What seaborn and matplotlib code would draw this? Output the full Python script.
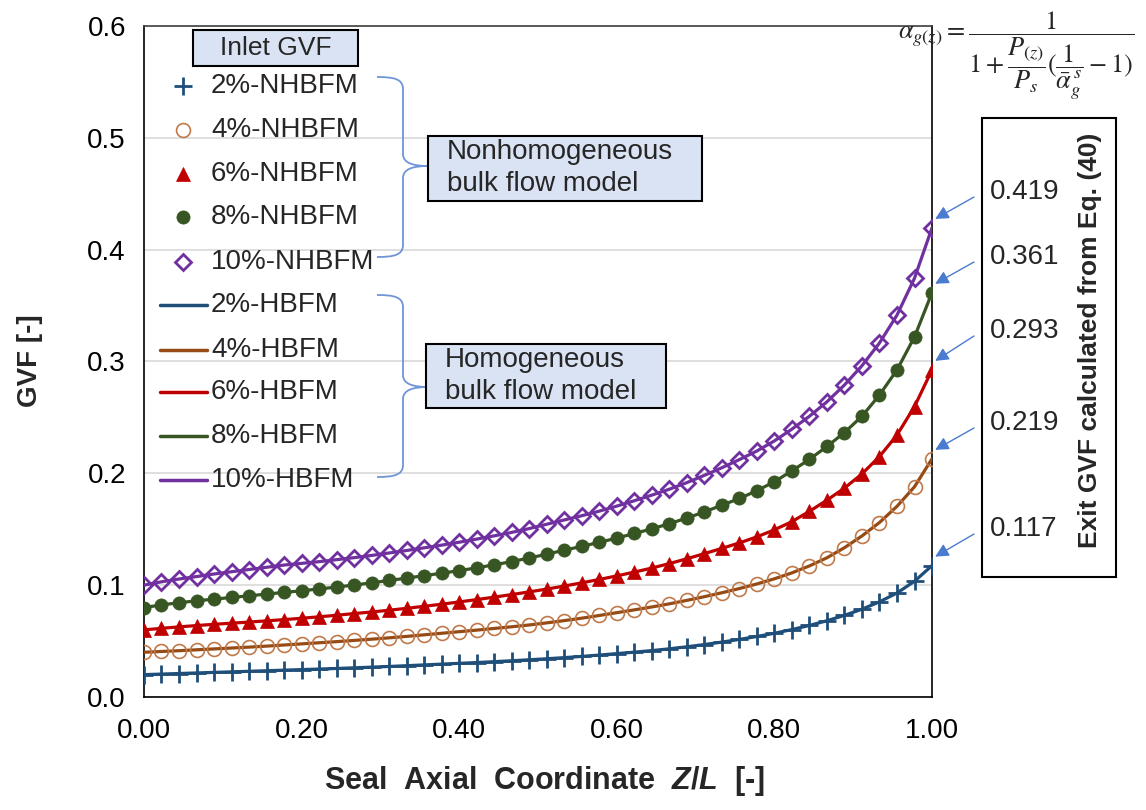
import numpy as np
import pandas as pd
import matplotlib
matplotlib.use("Agg")
import matplotlib.pyplot as plt
import matplotlib.transforms as mtransforms
from matplotlib.patches import Rectangle, PathPatch
from matplotlib.path import Path
from matplotlib.lines import Line2D
import seaborn as sns

# ---------------- data ----------------
z_over_L = [0.0000, 0.0222, 0.0444, 0.0667, 0.0889, 0.1111, 0.1333, 0.1556, 0.1778, 0.2000,
            0.2222, 0.2444, 0.2667, 0.2889, 0.3111, 0.3333, 0.3556, 0.3778, 0.4000, 0.4222,
            0.4444, 0.4667, 0.4889, 0.5111, 0.5333, 0.5556, 0.5778, 0.6000, 0.6222, 0.6444,
            0.6667, 0.6889, 0.7111, 0.7333, 0.7556, 0.7778, 0.8000, 0.8222, 0.8444, 0.8667,
            0.8889, 0.9111, 0.9333, 0.9556, 0.9778, 1.0000]

gvf_2 = [0.0200, 0.0205, 0.0210, 0.0215, 0.0220, 0.0225, 0.0230, 0.0235, 0.0240, 0.0245,
         0.0250, 0.0255, 0.0261, 0.0267, 0.0273, 0.0280, 0.0287, 0.0294, 0.0301, 0.0308,
         0.0316, 0.0324, 0.0333, 0.0342, 0.0352, 0.0363, 0.0375, 0.0388, 0.0401, 0.0415,
         0.0431, 0.0449, 0.0469, 0.0491, 0.0515, 0.0541, 0.0570, 0.0603, 0.0640, 0.0682,
         0.0730, 0.0785, 0.0851, 0.0930, 0.1035, 0.1175]
gvf_4 = [0.0400, 0.0407, 0.0414, 0.0422, 0.0430, 0.0438, 0.0446, 0.0455, 0.0465, 0.0475,
         0.0485, 0.0495, 0.0506, 0.0517, 0.0529, 0.0542, 0.0556, 0.0570, 0.0584, 0.0598,
         0.0613, 0.0628, 0.0644, 0.0663, 0.0683, 0.0705, 0.0729, 0.0754, 0.0779, 0.0805,
         0.0833, 0.0864, 0.0897, 0.0932, 0.0970, 0.1011, 0.1057, 0.1110, 0.1172, 0.1245,
         0.1335, 0.1440, 0.1560, 0.1705, 0.1880, 0.2130]
gvf_6 = [0.0600, 0.0614, 0.0627, 0.0639, 0.0650, 0.0660, 0.0670, 0.0681, 0.0692, 0.0704,
         0.0717, 0.0731, 0.0746, 0.0760, 0.0776, 0.0793, 0.0811, 0.0830, 0.0850, 0.0871,
         0.0893, 0.0916, 0.0940, 0.0965, 0.0992, 0.1021, 0.1051, 0.1083, 0.1117, 0.1153,
         0.1193, 0.1236, 0.1282, 0.1329, 0.1378, 0.1432, 0.1495, 0.1568, 0.1660, 0.1760,
         0.1868, 0.1995, 0.2150, 0.2343, 0.2597, 0.2925]
gvf_8 = [0.0800, 0.0823, 0.0843, 0.0860, 0.0875, 0.0890, 0.0905, 0.0920, 0.0935, 0.0950,
         0.0966, 0.0983, 0.1001, 0.1021, 0.1042, 0.1063, 0.1085, 0.1107, 0.1130, 0.1155,
         0.1182, 0.1211, 0.1243, 0.1277, 0.1313, 0.1347, 0.1383, 0.1421, 0.1462, 0.1503,
         0.1550, 0.1600, 0.1655, 0.1715, 0.1775, 0.1845, 0.1925, 0.2022, 0.2125, 0.2240,
         0.2365, 0.2510, 0.2700, 0.2925, 0.3220, 0.3615]
gvf_10 = [0.1000, 0.1030, 0.1055, 0.1077, 0.1100, 0.1120, 0.1140, 0.1160, 0.1180, 0.1195,
          0.1210, 0.1228, 0.1246, 0.1266, 0.1288, 0.1310, 0.1334, 0.1358, 0.1384, 0.1412,
          0.1441, 0.1472, 0.1506, 0.1545, 0.1583, 0.1621, 0.1662, 0.1707, 0.1755, 0.1805,
          0.1858, 0.1917, 0.1982, 0.2050, 0.2123, 0.2200, 0.2290, 0.2395, 0.2510, 0.2640,
          0.2790, 0.2962, 0.3165, 0.3415, 0.3745, 0.4195]

inlet_labels = ["2%", "4%", "6%", "8%", "10%"]
exit_gvf_eq40 = ["0.419", "0.361", "0.293", "0.219", "0.117"]
x_ticks = [0.0, 0.2, 0.4, 0.6, 0.8, 1.0]
x_tick_labels = ["0.00", "0.20", "0.40", "0.60", "0.80", "1.00"]
y_ticks = [0.0, 0.1, 0.2, 0.3, 0.4, 0.5, 0.6]
y_tick_labels = ["0.0", "0.1", "0.2", "0.3", "0.4", "0.5", "0.6"]

# ---------------- style ----------------
sns.set_style("white")
plt.rcParams['font.family'] = ['Liberation Sans', 'DejaVu Sans']
plt.rcParams['mathtext.fontset'] = 'custom'
plt.rcParams['mathtext.it'] = 'Liberation Sans:italic:bold'
plt.rcParams['mathtext.rm'] = 'Liberation Sans:bold'
plt.rcParams['mathtext.bf'] = 'Liberation Sans:bold'

W, H = 1146, 810
fig = plt.figure(figsize=(W / 100, H / 100), dpi=100)
ax = fig.add_axes([144 / W, 1 - 697 / H, (932 - 144) / W, (697 - 26) / H])
PX = mtransforms.Affine2D().scale(1, -1).translate(0, H)

df = pd.DataFrame({"z": z_over_L, "2%": gvf_2, "4%": gvf_4, "6%": gvf_6,
                   "8%": gvf_8, "10%": gvf_10})

styles = {
    "2%":  dict(line='#1f4e79', marker='+', ms=13, mfc='#1f4e79', mec='#1f4e79', mew=2.0),
    "4%":  dict(line='#974b14', marker='o', ms=10, mfc='none', mec='#c0794a', mew=1.2),
    "6%":  dict(line='#c00000', marker='^', ms=10.5, mfc='#c00000', mec='#c00000', mew=0.5),
    "8%":  dict(line='#375623', marker='o', ms=9.5, mfc='#375623', mec='#375623', mew=0.5),
    "10%": dict(line='#7030a0', marker='D', ms=8, mfc='none', mec='#7030a0', mew=2.0),
}

for name in inlet_labels:
    st = styles[name]
    sns.lineplot(data=df, x="z", y=name, ax=ax, color=st['line'], lw=2.3, zorder=3)
for name in inlet_labels:
    st = styles[name]
    sns.lineplot(data=df, x="z", y=name, ax=ax, color=st['line'], linestyle='',
                 marker=st['marker'], ms=st['ms'], mfc=st['mfc'], mec=st['mec'],
                 mew=st['mew'], zorder=4)

ax.set_xlim(0, 1)
ax.set_ylim(0, 0.6)
ax.set_xticks(x_ticks)
ax.set_xticklabels(x_tick_labels)
ax.set_yticks(y_ticks)
ax.set_yticklabels(y_tick_labels)
ax.set_xlabel("")
ax.set_ylabel("")
ax.yaxis.grid(True, color='#d9d9d9', lw=1.2)
ax.xaxis.grid(False)
ax.set_axisbelow(True)
for s in ax.spines.values():
    s.set_color('black')
    s.set_linewidth(1.2)
ax.spines['top'].set_color('#404040')
ax.tick_params(axis='both', direction='out', length=7, width=1.2, color='black',
               labelsize=20, labelcolor='black', pad=6)
ax.tick_params(axis='x', pad=8)

# axis titles
fig.text(30, 361, "GVF [-]", transform=PX, rotation=90, ha='center', va='center',
         fontsize=20, fontweight='bold')
fig.text(544, 781, r"Seal  Axial  Coordinate  $Z$/$L$  [-]", transform=PX, ha='center',
         va='center', fontsize=22, fontweight='bold')

# ---------------- custom legend ----------------
box_fc = '#dae3f3'
fig.add_artist(Rectangle((193, 30), 165, 36, transform=PX, facecolor=box_fc,
                         edgecolor='black', lw=1.5))
fig.text(275.5, 48, "Inlet GVF", transform=PX, ha='center', va='center', fontsize=19)

rows_nh = [86, 130, 174, 217, 262]
rows_h = [305, 350, 392, 436, 480]
for name, yy in zip(inlet_labels, rows_nh):
    st = styles[name]
    fig.add_artist(Line2D([183], [yy], transform=PX, linestyle='', marker=st['marker'],
                          ms=st['ms'], mfc=st['mfc'], mec=st['mec'], mew=st['mew']))
    fig.text(211, yy, f"{name}-NHBFM", transform=PX, ha='left', va='center', fontsize=20)
for name, yy in zip(inlet_labels, rows_h):
    st = styles[name]
    fig.add_artist(Line2D([160, 207], [yy, yy], transform=PX, color=st['line'], lw=2.5))
    fig.text(211, yy, f"{name}-HBFM", transform=PX, ha='left', va='center', fontsize=20)


def brace(top, mid, bot, x0=377, xs=403, tip=428):
    verts = [(x0, top), (x0 + 17, top), (xs, top + 2), (xs, top + 12),
             (xs, mid - 12),
             (xs, mid - 3), (xs + 10, mid), (tip, mid),
             (xs + 10, mid), (xs, mid + 3), (xs, mid + 12),
             (xs, bot - 12),
             (xs, bot - 2), (x0 + 17, bot), (x0, bot)]
    codes = [Path.MOVETO, Path.CURVE4, Path.CURVE4, Path.CURVE4,
             Path.LINETO,
             Path.CURVE4, Path.CURVE4, Path.CURVE4,
             Path.CURVE4, Path.CURVE4, Path.CURVE4,
             Path.LINETO,
             Path.CURVE4, Path.CURVE4, Path.CURVE4]
    fig.add_artist(PathPatch(Path(verts, codes), transform=PX, facecolor='none',
                             edgecolor='#6f95d8', lw=1.3))


brace(77, 166, 257)
brace(295, 387, 477)

fig.add_artist(Rectangle((428, 136), 274, 65, transform=PX, facecolor=box_fc,
                         edgecolor='black', lw=1.5))
fig.text(447, 152, "Nonhomogeneous", transform=PX, ha='left', va='center', fontsize=20)
fig.text(447, 184, "bulk flow model", transform=PX, ha='left', va='center', fontsize=20)
fig.add_artist(Rectangle((426, 344), 240, 64, transform=PX, facecolor=box_fc,
                         edgecolor='black', lw=1.5))
fig.text(445, 360, "Homogeneous", transform=PX, ha='left', va='center', fontsize=20)
fig.text(445, 392, "bulk flow model", transform=PX, ha='left', va='center', fontsize=20)

# ---------------- exit GVF annotations ----------------
fig.add_artist(Rectangle((982, 118), 134, 459, transform=PX, facecolor='none',
                         edgecolor='black', lw=1.5))
fig.text(1090, 340, "Exit GVF calculated from Eq. (40)", transform=PX, rotation=90,
         ha='center', va='center', fontsize=19, fontweight='bold')

label_y = [192, 257, 331, 423, 529]
end_vals = [gvf_10[-1], gvf_8[-1], gvf_6[-1], gvf_4[-1], gvf_2[-1]]
for lab, ly, ev in zip(exit_gvf_eq40, label_y, end_vals):
    fig.text(990, ly, lab, transform=PX, ha='left', va='center', fontsize=20)
    ax.annotate('', xy=(1.004, ev + 0.008), xycoords='data',
                xytext=(974, ly + 5), textcoords=PX, annotation_clip=False,
                arrowprops=dict(arrowstyle='-|>', color='#4a7bd0', lw=1.0,
                                mutation_scale=20, shrinkA=0, shrinkB=0))

# formula
fig.text(1016, 56,
         r"$\alpha_{g(z)}=\dfrac{1}{1+\dfrac{P_{(z)}}{P_s}(\dfrac{1}{\bar{\alpha}_g^{\,s}}-1)}$",
         transform=PX, ha='center', va='center', fontsize=19, math_fontfamily='stix')

fig.savefig("out.png", dpi=100)
